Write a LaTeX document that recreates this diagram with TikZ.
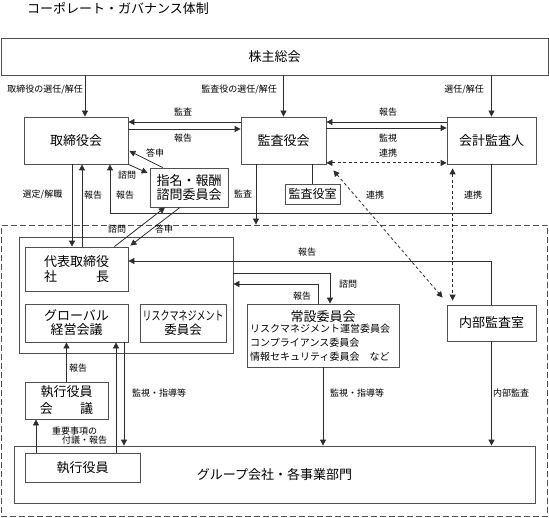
\documentclass[tikz,border=0pt]{standalone}
\usepackage{fontspec}
\setmainfont{Noto Sans CJK JP}
\usepackage{graphicx}
\usetikzlibrary{arrows.meta}
\definecolor{linec}{RGB}{45,45,45}
\definecolor{boxc}{RGB}{80,80,80}
\newcommand\fsbig{\fontsize{13bp}{15bp}\selectfont}
\newcommand\fssmall{\fontsize{9bp}{10bp}\selectfont}
\newcommand\fsmid{\fontsize{10bp}{14bp}\selectfont}
\tikzset{
  box/.style={draw=boxc, line width=0.8bp, inner sep=0pt, font=\fsbig, align=center},
  lab/.style={inner sep=0pt, font=\fssmall},
  arr/.style={draw=linec, line width=0.8bp, -{Triangle[length=6bp,width=6bp]}},
  darr/.style={draw=linec, line width=0.8bp, {Triangle[length=6bp,width=6bp]}-{Triangle[length=6bp,width=6bp]}, dash pattern=on 3bp off 2.5bp},
  ln/.style={draw=linec, line width=0.8bp}
}
\begin{document}
\begin{tikzpicture}[x=1bp,y=-1bp]
\useasboundingbox (0,0) rectangle (549,518);

\node[lab, font=\fsbig, anchor=west] (title) at (27,8) {コーポレート・ガバナンス体制};

% boxes
\node[box, minimum width=547bp, minimum height=37bp] (kabu) at (274.5,56.5) {株主総会};
\node[box, minimum width=104bp, minimum height=47bp] (tori) at (76,140.5) {取締役会};
\node[box, minimum width=85bp, minimum height=47bp] (kansa) at (283.5,140.5) {監査役会};
\node[box, minimum width=89bp, minimum height=47bp] (kaikei) at (491.5,140.5) {会計監査人};
\node[box, minimum width=78bp, minimum height=39bp, font=\fontsize{13bp}{14bp}\selectfont] (shimei) at (189,187.5) {指名・報酬\\諮問委員会};
\node[box, minimum width=55bp, minimum height=20bp, font=\fontsize{12bp}{14bp}\selectfont] (kshitsu) at (312.5,194) {監査役室};

\node[draw=boxc, line width=0.8bp, dash pattern=on 6bp off 3bp, minimum width=546bp, minimum height=291bp, inner sep=0pt] (dashbox) at (274.5,370.5) {};

\node[box, minimum width=214bp, minimum height=116bp] (exec) at (126,295) {};
\node[box, minimum width=103bp, minimum height=44bp] (daihyo) at (76.5,269) {代表取締役\\\makebox[5em]{社\hfill 長}};
\node[box, minimum width=103bp, minimum height=38bp, font=\fontsize{13bp}{14bp}\selectfont] (global) at (76.5,323) {グローバル\\経営会議};
\node[box, minimum width=86bp, minimum height=38bp, font=\fontsize{12.5bp}{14bp}\selectfont] (risk) at (183,323) {\scalebox{0.72}[1]{リスクマネジメント}\\委員会};
\node[box, minimum width=152bp, minimum height=63bp] (josetsu) at (323,335.5) {};
\node[lab, font=\fsbig] (josetsuT) at (323,317) {常設委員会};
\node[lab, font=\fsmid, anchor=north west, align=left] (josetsuL) at (250,324) {リスクマネジメント運営委員会\\コンプライアンス委員会\\情報セキュリティ委員会\quad など};
\node[box, minimum width=89bp, minimum height=36bp] (naibu) at (491.5,323) {内部監査室};
\node[box, minimum width=83bp, minimum height=37bp, font=\fontsize{13bp}{17bp}\selectfont] (skaigi) at (66.5,400.5) {執行役員\\\makebox[4.1em]{会\hfill 議}};
\node[box, minimum width=521bp, minimum height=57bp] (grp) at (274.5,474.5) {\raisebox{-1.5bp}{グループ会社・各事業部門}};
\node[box, minimum width=115bp, minimum height=29bp] (shikko) at (82.5,467.5) {執行役員};

% helper coordinates
\coordinate (bendA) at (300,213);
\coordinate (daihyoR) at ([yshift=8bp]daihyo.east);
\coordinate (execA) at ([yshift=22bp]exec.east);
\coordinate (execB) at ([yshift=11bp]exec.east);

% shareholders
\draw[arr] ([xshift=9bp]tori.north |- kabu.south) -- ([xshift=9bp]tori.north);
\draw[arr] (kansa.north |- kabu.south) -- (kansa.north);
\draw[arr] (kaikei.north |- kabu.south) -- (kaikei.north);

% board <-> auditors
\draw[arr] ([yshift=18.5bp]kansa.west) -- ([yshift=18.5bp]tori.east);
\draw[arr] ([yshift=11.5bp]tori.east) -- ([yshift=11.5bp]kansa.west);
\draw[arr] ([yshift=18.5bp]kaikei.west) -- ([yshift=18.5bp]kansa.east);
\draw[arr] ([yshift=12.5bp]kansa.east) -- ([yshift=12.5bp]kaikei.west);
\draw[darr] ([yshift=1.5bp]kansa.south east) -- ([yshift=1.5bp]kaikei.south west);

% nomination committee
\draw[arr] ([xshift=13bp]shimei.north west) -- ([xshift=1bp,yshift=-10.5bp]tori.east);
\draw[arr] (tori.south east) -- ([xshift=-2bp,yshift=14.5bp]shimei.west);

% board <-> president
\draw[arr] ([xshift=-4bp]tori.south) -- ([xshift=-4bp]tori.south |- daihyo.north);
\draw[arr] ([xshift=5.5bp]daihyo.north) -- ([xshift=5.5bp]daihyo.north |- tori.south);

% accounting auditor report
\draw[arr] (kaikei.south) -- (kaikei.south |- bendA) -- ([xshift=34bp]tori.south |- bendA) -- ([xshift=34bp]tori.south);

% audit
\draw[arr] ([xshift=-27.5bp]kansa.south) -- ([xshift=-27.5bp]kansa.south |- dashbox.north);
\draw[ln] (kshitsu.north) -- (kshitsu.north |- kansa.south);

% cooperation dashed
\draw[darr] ([xshift=7bp,yshift=-6bp]kansa.south east) -- ([xshift=-4bp,yshift=7bp]naibu.north west);
\draw[darr] ([xshift=6bp,yshift=-4bp]kaikei.south west) -- ([xshift=6bp,yshift=4bp]naibu.north west);

% president <-> nomination committee
\draw[arr] ([xshift=-14bp]daihyo.north east) -- ([xshift=-24bp]shimei.south);
\draw[arr] ([xshift=-9bp]shimei.south) -- ([xshift=2bp,yshift=1bp]daihyo.north east);

% internal audit report
\draw[arr] (naibu.north) -- (naibu.north |- daihyoR) -- (daihyoR);

% standing committees
\draw[arr] ([xshift=-5bp]josetsu.north) -- ([xshift=-5bp]josetsu.north |- execB) -- (execB);
\draw[arr] (execA) -- ([xshift=7bp]josetsu.north |- execA) -- ([xshift=7bp]josetsu.north);

% down to group
\draw[arr] (josetsu.south) -- (josetsu.south |- grp.north);
\draw[arr] (naibu.south) -- (naibu.south |- grp.north);
\draw[arr] ([xshift=47.5bp]global.south) -- ([xshift=47.5bp]global.south |- grp.north);
\draw[arr] ([xshift=39.5bp]global.south |- shikko.north) -- ([xshift=39.5bp]global.south);
\draw[arr] (skaigi.north) -- (skaigi.north |- global.south);
\draw[arr] ([xshift=-30.5bp]skaigi.south |- shikko.north) -- ([xshift=-30.5bp]skaigi.south);

% labels
\node[lab, anchor=east] (l1) at (83,90) {取締役の選任/解任};
\node[lab, anchor=east] (l2) at (277,90) {監査役の選任/解任};
\node[lab, anchor=east] (l3) at (484,90) {選任/解任};
\node[lab] (l4) at (183,112) {監査};
\node[lab] (l5) at (183,138) {報告};
\node[lab] (l6) at (388,112) {報告};
\node[lab] (l7) at (388,138) {監視};
\node[lab] (l8) at (388,153) {連携};
\node[lab] (l9) at (155,153) {答申};
\node[lab] (l10) at (127,175) {諮問};
\node[lab] (l11) at (42.5,195) {選定/解職};
\node[lab] (l12) at (93,195) {報告};
\node[lab] (l13) at (125,195) {報告};
\node[lab] (l14) at (243,194) {監査};
\node[lab] (l15) at (375,195) {連携};
\node[lab] (l16) at (473,195) {連携};
\node[lab] (l17) at (117,229) {諮問};
\node[lab] (l18) at (164,229) {答申};
\node[lab] (l19) at (307,252) {報告};
\node[lab] (l20) at (302,296) {報告};
\node[lab] (l21) at (348,284) {諮問};
\node[lab] (l22) at (78,368) {報告};
\node[lab, anchor=west] (l23) at (132,393) {監視・指導等};
\node[lab, anchor=west] (l24) at (330,393) {監視・指導等};
\node[lab, anchor=west] (l25) at (493,393) {内部監査};
\node[lab] (l26) at (74.5,431) {重要事項の};
\node[lab] (l27) at (84.5,440) {付議・報告};
\end{tikzpicture}
\end{document}
